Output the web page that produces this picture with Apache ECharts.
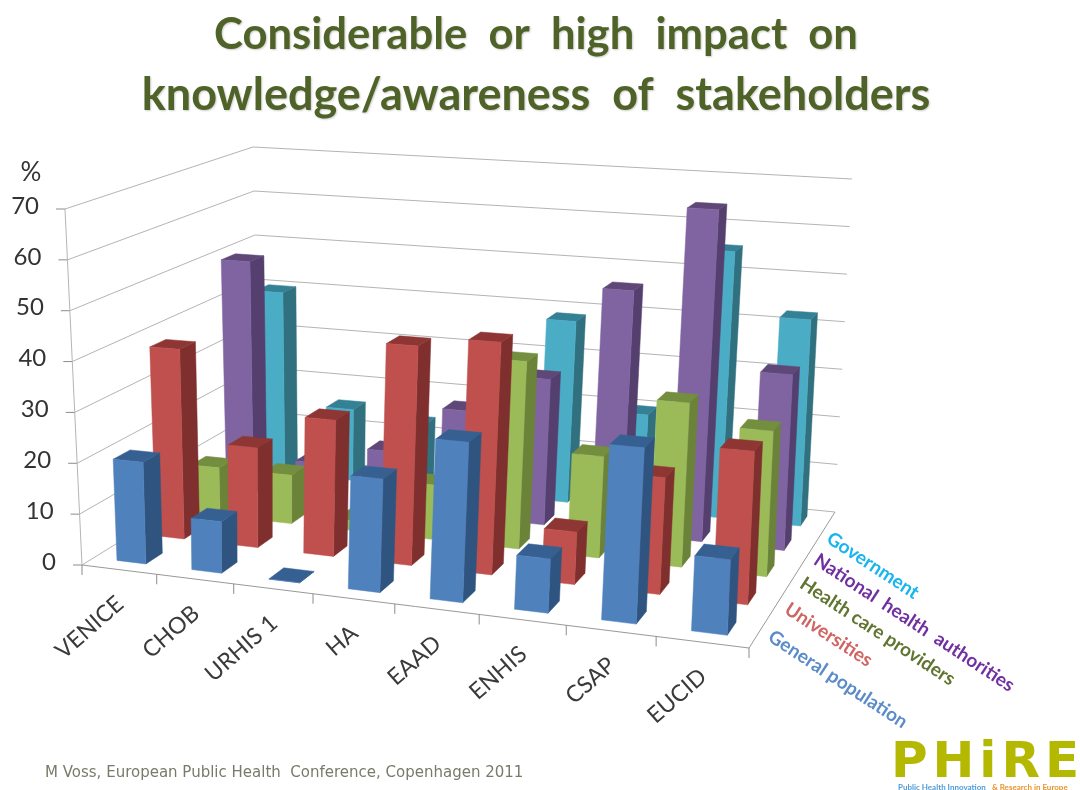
<!DOCTYPE html>
<html><head><meta charset="utf-8">
<style>html,body{margin:0;padding:0;background:#fff}#c{width:1080px;height:790px}</style>
<script src="https://cdn.jsdelivr.net/npm/echarts@6/dist/echarts.min.js"></script>
</head><body><div id="c"></div>
<script>
const categories = ['VENICE','CHOB','URHIS 1','HA','EAAD','ENHIS','CSAP','EUCID'];
const yTicks = [0,10,20,30,40,50,60,70];
const rowNames = ['General population','Universities','Health care providers','National  health  authorities','Government'];
const generalPopulation = [20,10,0,21.5,30,10,32,13.5];
const universities = [38.5,20,27,43,45,10,22,28.5];
const healthCare = [10,10,2,11,37.5,20,32,28];
const nationalAuthorities = [50,8,12,22,30,49.5,67,35];
const government = [40,15.5,13.5,10,38.5,20,55.5,42.5];
const rowValues = [generalPopulation,universities,healthCare,nationalAuthorities,government];
const faceColors = [
 ['#4F81BD','#2F5480','#376092'],
 ['#C0504D','#7F2F2D','#8E3634'],
 ['#9BBB59','#6B8239','#748E3F'],
 ['#8064A2','#553F6E','#5F4878'],
 ['#4BACC6','#30707F','#348196']];
const rowTextColors = ['#5B8BC9','#CF6461','#5F7530','#7030A0','#18B4F0'];

function quad(p0,p1,p2,p3){
  const dx1=p1[0]-p2[0],dx2=p3[0]-p2[0],sx=p0[0]-p1[0]+p2[0]-p3[0];
  const dy1=p1[1]-p2[1],dy2=p3[1]-p2[1],sy=p0[1]-p1[1]+p2[1]-p3[1];
  const den=dx1*dy2-dx2*dy1;
  const g=(sx*dy2-dx2*sy)/den,h=(dx1*sy-sx*dy1)/den;
  const a=p1[0]-p0[0]+g*p1[0],b=p3[0]-p0[0]+h*p3[0],c=p0[0];
  const d=p1[1]-p0[1]+g*p1[1],e=p3[1]-p0[1]+h*p3[1],f=p0[1];
  return (u,v)=>{const q=g*u+h*v+1;return [(a*u+b*v+c)/q,(d*u+e*v+f)/q];};
}
const floorMap = quad([82,565],[749,648],[835,512],[260,455]);
const topMap = quad([65,209],[765,250],[852,179],[253,147]);
function project(u,w,h){
  const a=floorMap(u,w),b=topMap(u,w);
  return [a[0]+(b[0]-a[0])*h,a[1]+(b[1]-a[1])*h];
}
const barFracU=0.39, barFracW=0.42;
const fontName='Lato, "Open Sans", sans-serif';
function norm(api,params,cat,val){
  const cs=params.coordSys,p=api.coord([cat,val]);
  return [(p[0]-cs.x)/cs.width,(cs.y+cs.height-p[1])/cs.height];
}
function barItem(row){
  return function(params,api){
    const n=norm(api,params,api.value(0),api.value(1));
    const du=barFracU/categories.length/2;
    const w0=(row+.5)/rowNames.length-barFracW/rowNames.length/2;
    const w1=(row+.5)/rowNames.length+barFracW/rowNames.length/2;
    const u0=n[0]-du+.001,u1=n[0]+du+.001,h=n[1];
    const c=faceColors[row];
    const poly=(pts,fill)=>({type:'polygon',shape:{points:pts},style:{fill:fill,stroke:fill,lineWidth:.5}});
    return {type:'group',children:[
      poly([project(u1,w0,0),project(u1,w1,0),project(u1,w1,h),project(u1,w0,h)],c[1]),
      poly([project(u0,w0,h),project(u1,w0,h),project(u1,w1,h),project(u0,w1,h)],c[2]),
      poly([project(u0,w0,0),project(u1,w0,0),project(u1,w0,h),project(u0,w0,h)],c[0])
    ]};
  };
}
const gridColor='#B4B4B4';
function gridItem(params,api){
  const n=norm(api,params,0,api.value(0));
  const h=n[1];
  const a=project(0,0,h),b=project(0,1,h),d=project(1,1,h);
  const ch=[
    {type:'polyline',shape:{points:[a,b,d]},style:{stroke:gridColor,lineWidth:1,fill:null}},
    {type:'line',shape:{x1:a[0]-9,y1:a[1],x2:a[0],y2:a[1]},style:{stroke:'#8c8c8c',lineWidth:1}},
    {type:'text',x:a[0]-26,y:a[1]-3,style:{text:String(api.value(0)),fontFamily:fontName,fontSize:24,fill:'#333',align:'right',verticalAlign:'middle'}}
  ];
  return {type:'group',children:ch};
}
function floorItem(params,api){
  const a=project(0,0,0),b=project(1,0,0),c=project(1,1,0),t=project(0,0,1);
  const ch=[
   {type:'polyline',shape:{points:[a,b,c]},style:{stroke:'#999',lineWidth:1,fill:null}},
   {type:'line',shape:{x1:a[0],y1:a[1],x2:t[0],y2:t[1]},style:{stroke:'#B5B5B5',lineWidth:1}}
  ];
  for(let i=0;i<=categories.length;i++){
    const p=project(i/categories.length,0,0);
    ch.push({type:'line',shape:{x1:p[0],y1:p[1],x2:p[0],y2:p[1]+10},style:{stroke:'#8c8c8c',lineWidth:1}});
  }
  return {type:'group',children:ch};
}
function catLabelItem(params,api){
  const n=norm(api,params,api.value(0),0);
  const p=project(n[0],0,0);
  return {type:'text',x:p[0]+1,y:p[1]+31,rotation:0.72,style:{text:categories[api.value(0)],fontFamily:fontName,fontSize:23,fill:'#3a3a3a',align:'right',verticalAlign:'middle'}};
}
function rowLabelItem(params,api){
  const j=api.value(0);
  const p=project(1,(j+.5)/rowNames.length,0);
  return {type:'text',x:p[0]+11-2.5*j,y:p[1]+3+2.5*j,rotation:-0.58,style:{text:rowNames[j],fontFamily:fontName,fontWeight:'bold',fontSize:19,fill:rowTextColors[j],align:'left',verticalAlign:'middle'}};
}
const base={type:'custom',coordinateSystem:'cartesian2d',clip:false,silent:true,animation:false};
const series=[
  Object.assign({},base,{name:'grid',renderItem:gridItem,data:yTicks.map(v=>[v,v]),encode:{x:[],y:0}}),
  Object.assign({},base,{name:'floor',renderItem:floorItem,data:[[0,0]]})
];
for(let j=rowNames.length-1;j>=0;j--){
  series.push(Object.assign({},base,{name:rowNames[j],renderItem:barItem(j),data:rowValues[j].map((v,i)=>[i,v])}));
}
series.push(Object.assign({},base,{name:'catLabels',renderItem:catLabelItem,data:categories.map((c,i)=>[i,0])}));
series.push(Object.assign({},base,{name:'rowLabels',renderItem:rowLabelItem,data:rowNames.map((c,j)=>[j,0])}));

const titleStyle={fontFamily:fontName,fontWeight:'bold',fill:'#4F6228',align:'center',verticalAlign:'middle',textShadowColor:'rgba(0,0,0,.2)',textShadowBlur:2,textShadowOffsetX:1,textShadowOffsetY:1};
const chart=echarts.init(document.getElementById('c'),null,{renderer:'canvas'});
chart.setOption({
  animation:false,backgroundColor:'#fff',
  grid:{left:100,right:100,top:100,bottom:100},
  xAxis:{type:'category',data:categories,show:false},
  yAxis:{type:'value',min:0,max:70,interval:10,show:false},
  series:series,
  graphic:[
    {type:'text',x:536,y:35,style:Object.assign({text:'Considerable  or  high  impact  on',fontSize:43.6},titleStyle)},
    {type:'text',x:536,y:95,style:Object.assign({text:'knowledge/awareness  of  stakeholders',fontSize:45},titleStyle)},
    {type:'text',x:31,y:173,style:{text:'%',fontFamily:fontName,fontSize:26,fill:'#333',align:'center',verticalAlign:'middle'}},
    {type:'text',x:45,y:773,style:{text:'M Voss, European Public Health  Conference, Copenhagen 2011',fontFamily:'"DejaVu Sans"',fontSize:15,fill:'#7a7a6a',align:'left',verticalAlign:'middle'}},
    {type:'text',x:985,y:764,style:{text:'P\u200AH\u200Ai\u200AR\u200AE',fontFamily:'"DejaVu Sans"',fontWeight:'bold',fontSize:50,fill:'#B5B800',align:'center',verticalAlign:'middle'}},
    {type:'text',x:898,y:787,style:{text:'Public Health Innovation',fontFamily:fontName,fontSize:8,fontWeight:'bold',fill:'#4F9BD9',align:'left',verticalAlign:'middle'}},
    {type:'text',x:992,y:787,style:{text:'& Research in Europe',fontFamily:fontName,fontSize:8,fontWeight:'bold',fill:'#E8942F',align:'left',verticalAlign:'middle'}}
  ]
});
</script></body></html>
